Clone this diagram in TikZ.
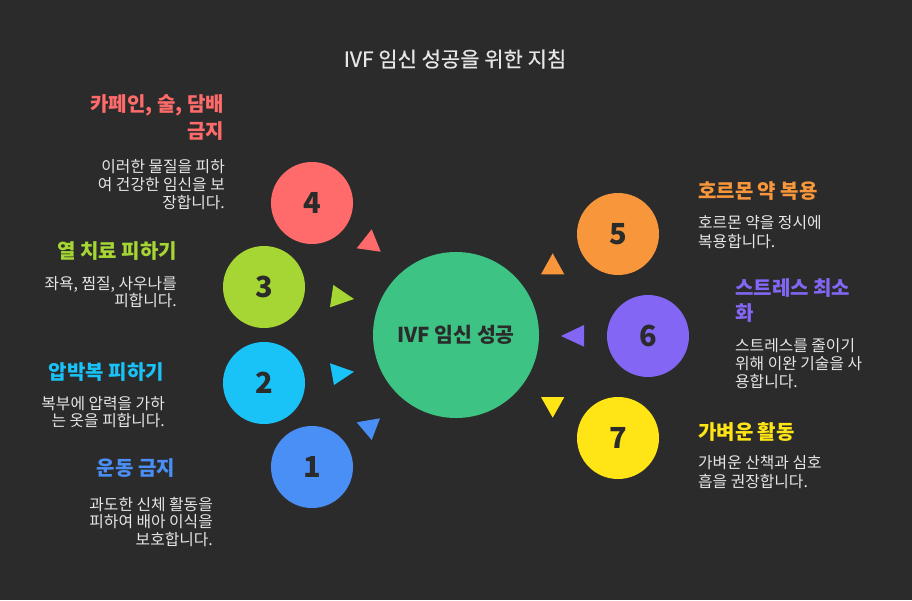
\documentclass[tikz,border=0pt]{standalone}
\usepackage{fontspec}
\setmainfont{Noto Sans CJK KR}
\newfontfamily\titlefont[FakeBold=0.5]{Noto Sans CJK KR}
\definecolor{bg}{HTML}{2B2B2B}
\definecolor{txt}{HTML}{E6E6E6}
\definecolor{dark}{HTML}{2B2B2B}
\definecolor{cred}{HTML}{FF6B6B}
\definecolor{clime}{HTML}{A6D634}
\definecolor{ccyan}{HTML}{19C3F7}
\definecolor{cblue}{HTML}{4A8FF5}
\definecolor{corange}{HTML}{F7963A}
\definecolor{cpurple}{HTML}{8466F5}
\definecolor{cyellow}{HTML}{FFE515}
\definecolor{cgreen}{HTML}{3DC383}
\begin{document}
\begin{tikzpicture}[x=1pt,y=-1pt,
  hd/.style={font=\bfseries\fontsize{20}{24}\selectfont, inner sep=0},
  ds/.style={font=\fontsize{15.8}{18}\selectfont, text=txt, inner sep=0},
  num/.style={circle, minimum size=82pt, inner sep=0, text=dark, font=\bfseries\fontsize{29}{32}\selectfont},
  ]
\path[use as bounding box, fill=bg] (0,0) rectangle (912,600);
% title
\node[font=\titlefont\fontsize{21}{24}\selectfont, text=txt, inner sep=0] (title) at (455,59) {IVF 임신 성공을 위한 지침};
% central circle
\node[circle, fill=cgreen, minimum size=166pt, inner sep=0, text=dark, font=\bfseries\fontsize{20.5}{24}\selectfont] (center) at (456,335) {IVF 임신 성공};
% numbered circles
\node[num, fill=cred] (c4) at (312,203) {4};
\node[num, fill=clime] (c3) at (264,287) {3};
\node[num, fill=ccyan] (c2) at (264,383) {2};
\node[num, fill=cblue] (c1) at (312,467) {1};
\node[num, fill=corange] (c5) at (618,234) {5};
\node[num, fill=cpurple] (c6) at (648,336) {6};
\node[num, fill=cyellow] (c7) at (618,438) {7};
% triangles
\fill[cred] (356.7,248.3) -- (371.7,229.3) -- (380.7,251.7) -- cycle;
\fill[clime] (333.3,285) -- (354,299) -- (330,307.3) -- cycle;
\fill[ccyan] (330,363.3) -- (354,371.7) -- (334,385) -- cycle;
\fill[cblue] (356.7,422.3) -- (380,418.3) -- (371.7,440) -- cycle;
\fill[corange] (541,274.3) -- (552.7,253.3) -- (564.3,274.3) -- cycle;
\fill[cpurple] (561,336) -- (584,325) -- (584,346.7) -- cycle;
\fill[cyellow] (541,397) -- (564.3,397) -- (552.7,417.7) -- cycle;
% block 4
\node[hd, text=cred, anchor=east] (h4a) at (224,105) {카페인, 술, 담배};
\node[hd, text=cred, anchor=east] (h4b) at (224,131) {금지};
\node[ds, anchor=east] (d4a) at (225,167) {이러한 물질을 피하};
\node[ds, anchor=east] (d4b) at (225,185) {여 건강한 임신을 보};
\node[ds, anchor=east] (d4c) at (225,203) {장합니다.};
% block 3
\node[hd, text=clime, anchor=east] (h3) at (177,251) {열 치료 피하기};
\node[ds, anchor=east] (d3a) at (177,284) {좌욕, 찜질, 사우나를};
\node[ds, anchor=east] (d3b) at (177,301) {피합니다.};
% block 2
\node[hd, text=ccyan, anchor=east] (h2) at (164,372) {압박복 피하기};
\node[ds, anchor=east] (d2a) at (165,404) {복부에 압력을 가하};
\node[ds, anchor=east] (d2b) at (165,421) {는 옷을 피합니다.};
% block 1
\node[hd, text=cblue, anchor=east] (h1) at (175,468) {운동 금지};
\node[ds, anchor=east] (d1a) at (213,505) {과도한 신체 활동을};
\node[ds, anchor=east] (d1b) at (213,522) {피하여 배아 이식을};
\node[ds, anchor=east] (d1c) at (213,540) {보호합니다.};
% block 5
\node[hd, text=corange, anchor=west] (h5) at (698,191) {호르몬 약 복용};
\node[ds, anchor=west] (d5a) at (698,223) {호르몬 약을 정시에};
\node[ds, anchor=west] (d5b) at (698,242) {복용합니다.};
% block 6
\node[hd, text=cpurple, anchor=west] (h6a) at (735,288) {스트레스 최소};
\node[hd, text=cpurple, anchor=west] (h6b) at (735,313) {화};
\node[ds, anchor=west] (d6a) at (735,346) {스트레스를 줄이기};
\node[ds, anchor=west] (d6b) at (735,364) {위해 이완 기술을 사};
\node[ds, anchor=west] (d6c) at (735,382) {용합니다.};
% block 7
\node[hd, text=cyellow, anchor=west] (h7) at (698,432) {가벼운 활동};
\node[ds, anchor=west] (d7a) at (698,463) {가벼운 산책과 심호};
\node[ds, anchor=west] (d7b) at (698,481) {흡을 권장합니다.};
\end{tikzpicture}
\end{document}
